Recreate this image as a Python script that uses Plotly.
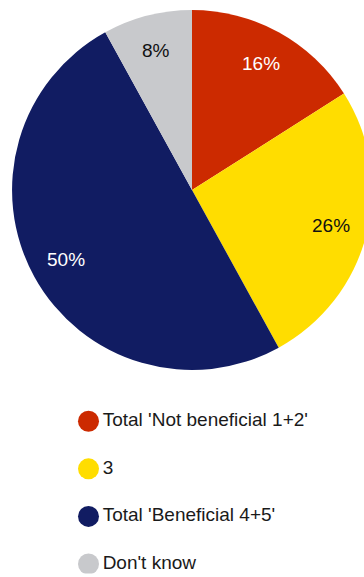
import math
import plotly.graph_objects as go

# Survey shares (percent)
categories = ["Total 'Not beneficial 1+2'", "3", "Total 'Beneficial 4+5'", "Don't know"]
values = [16, 26, 50, 8]
slice_colors = ["#CC2A00", "#FFDD00", "#111C62", "#C8C9CC"]
label_colors = ["#FFFFFF", "#111111", "#FFFFFF", "#111111"]

W, H = 380, 577
cx, cy, R = 192, 190, 180  # pie centre / radius in pixels
FONT = "Liberation Sans, Arial, sans-serif"

fig = go.Figure()

fig.add_trace(go.Pie(
    labels=categories,
    values=values,
    marker=dict(colors=slice_colors, line=dict(width=0)),
    sort=False,
    direction="clockwise",
    rotation=0,
    textinfo="none",
    hoverinfo="label+percent",
    showlegend=False,
    domain=dict(x=[(cx - R) / W, (cx + R) / W],
                y=[1 - (cy + R) / H, 1 - (cy - R) / H]),
))

# Percentage labels placed at 80% of the radius along each slice's mid-angle
total = sum(values)
cum = 0
annotations = []
for v, col in zip(values, label_colors):
    mid = (cum + v / 2) / total * 2 * math.pi
    cum += v
    px = cx + 0.8 * R * math.sin(mid)
    py = cy - 0.8 * R * math.cos(mid)
    annotations.append(dict(
        x=px / W, y=1 - py / H, xref="paper", yref="paper",
        text=f"{round(v / total * 100)}%", showarrow=False,
        font=dict(family=FONT, size=19, color=col),
        xanchor="center", yanchor="middle",
    ))

# Legend drawn as a column of circular markers with labels
fig.add_trace(go.Scatter(
    x=[0] * len(categories),
    y=list(range(len(categories))),
    mode="markers+text",
    marker=dict(size=21, color=slice_colors, line=dict(width=0)),
    text=categories,
    textposition="middle right",
    textfont=dict(family=FONT, size=19, color="#1A1A1A"),
    hoverinfo="skip",
    showlegend=False,
    xaxis="x", yaxis="y",
))

step = 47.6
y_top_px = 421.3 - 0.3 * step
y_bot_px = 564 + 0.2 * step

fig.update_layout(
    width=W, height=H,
    margin=dict(l=0, r=0, t=0, b=0),
    paper_bgcolor="#FFFFFF",
    plot_bgcolor="rgba(0,0,0,0)",
    annotations=annotations,
    xaxis=dict(domain=[0, 1], range=[-88.5, W - 88.5], visible=False, fixedrange=True),
    yaxis=dict(domain=[1 - y_bot_px / H, 1 - y_top_px / H], range=[3.2, -0.3],
               visible=False, fixedrange=True),
)

fig.write_html(
    "out.html",
    config=dict(displayModeBar=False),
    post_script="document.documentElement.style.overflow='hidden';document.body.style.overflow='hidden';document.body.style.margin='0';",
)
